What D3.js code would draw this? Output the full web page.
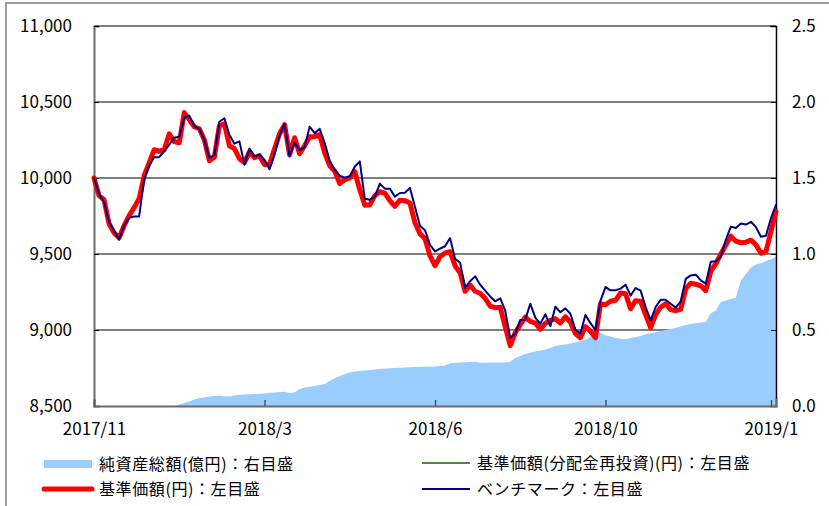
<!DOCTYPE html>
<html lang="ja">
<head>
<meta charset="utf-8">
<script src="https://cdn.jsdelivr.net/npm/d3@7/dist/d3.min.js"></script>
<style>
  html, body { margin: 0; padding: 0; background: #fff; }
  svg { display: block; }
  text { font-family: "Noto Sans CJK JP", "Noto Sans", sans-serif; fill: #000; }
</style>
</head>
<body>
<svg id="chart" width="829" height="506"></svg>
<script>
// 基準価額（円）— 設定来の推移
const nav = [
  10000, 9884, 9857, 9699, 9640, 9607, 9686, 9752, 9805, 9864,
  10015, 10101, 10186, 10176, 10186, 10291, 10239, 10232, 10430, 10384,
  10337, 10324, 10252, 10114, 10137, 10344, 10357, 10212, 10193, 10127,
  10101, 10173, 10134, 10147, 10088, 10088, 10193, 10291, 10351, 10153,
  10265, 10160, 10212, 10272, 10272, 10285, 10166, 10081, 10045, 9963,
  9989, 10000, 10041, 9923, 9821, 9824, 9884, 9910, 9901, 9851,
  9814, 9854, 9851, 9836, 9706, 9634, 9601, 9489, 9423, 9482,
  9507, 9515, 9423, 9377, 9255, 9295, 9255, 9242, 9209, 9157,
  9147, 9150, 9022, 8897, 8982, 9035, 9084, 9057, 9045, 9005,
  9043, 9064, 9074, 9046, 9087, 9051, 8976, 8949, 9022, 8992,
  8949, 9173, 9166, 9189, 9196, 9243, 9239, 9140, 9193, 9189,
  9101, 9015, 9101, 9150, 9173, 9134, 9127, 9136, 9272, 9308,
  9301, 9291, 9259, 9387, 9436, 9499, 9561, 9617, 9584, 9574,
  9578, 9591, 9561, 9505, 9515, 9648, 9780
];

// 分配実績がないため、分配金再投資ベースの基準価額は基準価額と同じ値
const navReinvested = nav;

// ベンチマーク（設定日を 10,000 として指数化）
const benchmark = [
  10000, 9897, 9841, 9712, 9653, 9594, 9686, 9739, 9747, 9747,
  9989, 10081, 10137, 10137, 10176, 10219, 10265, 10272, 10397, 10410,
  10341, 10324, 10249, 10134, 10150, 10370, 10393, 10285, 10226, 10241,
  10088, 10193, 10142, 10153, 10120, 10058, 10153, 10278, 10357, 10142,
  10232, 10183, 10203, 10338, 10295, 10324, 10232, 10114, 10055, 10015,
  10002, 10011, 10074, 10109, 9864, 9857, 9877, 9963, 9930, 9930,
  9877, 9901, 9903, 9934, 9811, 9686, 9657, 9561, 9517, 9535,
  9551, 9605, 9469, 9443, 9278, 9321, 9353, 9298, 9259, 9221,
  9189, 9209, 9127, 8949, 8976, 9066, 9068, 9173, 9081, 9041,
  9104, 9025, 9153, 9117, 9142, 9107, 9002, 8978, 9099, 9045,
  9000, 9193, 9282, 9261, 9262, 9272, 9298, 9226, 9276, 9259,
  9151, 9064, 9151, 9199, 9199, 9173, 9147, 9189, 9336, 9359,
  9364, 9326, 9305, 9449, 9453, 9482, 9594, 9680, 9671, 9701,
  9694, 9712, 9677, 9614, 9620, 9736, 9824
];

// 純資産総額（億円）
const netAssets = [
  0, 0, 0, 0, 0, 0, 0, 0, 0, 0,
  0, 0, 0, 0, 0, 0, 0, 0.010, 0.020, 0.030,
  0.043, 0.053, 0.056, 0.063, 0.066, 0.068, 0.064, 0.063, 0.069, 0.074,
  0.076, 0.077, 0.079, 0.081, 0.083, 0.087, 0.089, 0.092, 0.093, 0.086,
  0.088, 0.112, 0.122, 0.127, 0.132, 0.138, 0.145, 0.164, 0.184, 0.197,
  0.211, 0.220, 0.227, 0.230, 0.234, 0.237, 0.240, 0.243, 0.247, 0.248,
  0.250, 0.251, 0.253, 0.255, 0.257, 0.258, 0.259, 0.259, 0.260, 0.263,
  0.266, 0.281, 0.284, 0.286, 0.288, 0.289, 0.291, 0.284, 0.284, 0.286,
  0.286, 0.286, 0.286, 0.291, 0.316, 0.329, 0.342, 0.351, 0.359, 0.365,
  0.372, 0.382, 0.395, 0.401, 0.405, 0.411, 0.418, 0.426, 0.436, 0.454,
  0.470, 0.480, 0.464, 0.457, 0.447, 0.443, 0.439, 0.447, 0.454, 0.461,
  0.470, 0.478, 0.486, 0.493, 0.500, 0.507, 0.515, 0.523, 0.533, 0.539,
  0.545, 0.549, 0.553, 0.610, 0.628, 0.684, 0.694, 0.704, 0.714, 0.826,
  0.868, 0.911, 0.931, 0.939, 0.954, 0.964, 0.982
];

// 横軸の目盛ラベルと、その位置にあたるデータ番号
const xTickLabels = ["2017/11", "2018/3", "2018/6", "2018/10", "2019/1"];
const xTickIndex = [0, 34, 68, 102, 135];

// 縦軸の目盛
const leftTicks = [8500, 9000, 9500, 10000, 10500, 11000];
const rightTicks = [0, 0.5, 1.0, 1.5, 2.0, 2.5];

// 凡例
const legendItems = [
  { label: "純資産総額(億円)：右目盛", kind: "area", color: "#99ccff" },
  { label: "基準価額(分配金再投資)(円)：左目盛", kind: "line", color: "#4f8a35", width: 2 },
  { label: "基準価額(円)：左目盛", kind: "line", color: "#ff0000", width: 5 },
  { label: "ベンチマーク：左目盛", kind: "line", color: "#000080", width: 2 }
];

const svg = d3.select("#chart");
const plot = { left: 94, right: 776, top: 26, bottom: 406 };

const x = d3.scaleLinear().domain([0, nav.length - 1]).range([plot.left, plot.right]);
const yL = d3.scaleLinear().domain([8500, 11000]).range([plot.bottom, plot.top]);
const yR = d3.scaleLinear().domain([0, 2.5]).range([plot.bottom, plot.top]);

// 外枠
svg.append("path")
  .attr("d", "M6,520 L6,3 L840,3")
  .attr("fill", "none").attr("stroke", "#7f7f7f").attr("stroke-width", 1.5);

// 目盛線
svg.append("g").selectAll("line")
  .data(leftTicks.filter(d => d > 8500))
  .join("line")
  .attr("x1", plot.left).attr("x2", plot.right)
  .attr("y1", d => yL(d)).attr("y2", d => yL(d))
  .attr("stroke", "#000").attr("stroke-width", 1);

// 純資産総額（面）
const area = d3.area()
  .x((d, i) => x(i))
  .y0(yR(0))
  .y1(d => yR(d));
svg.append("path")
  .datum(netAssets)
  .attr("d", area)
  .attr("fill", "#99ccff");

// 左軸
const axisL = svg.append("g")
  .attr("transform", `translate(${plot.left},0)`)
  .call(d3.axisLeft(yL).tickValues(leftTicks).tickFormat(d3.format(","))
    .tickSize(-5).tickPadding(22));
axisL.select(".domain").attr("stroke", "#6b6b6b").attr("stroke-width", 2);
axisL.selectAll(".tick line").attr("stroke", "#000");
axisL.selectAll("text").attr("font-size", 17).attr("font-family", "'Noto Sans CJK JP', sans-serif");

// 右軸
const axisR = svg.append("g")
  .attr("transform", `translate(${plot.right},0)`)
  .call(d3.axisRight(yR).tickValues(rightTicks).tickFormat(d3.format(".1f"))
    .tickSize(-5).tickPadding(16));
axisR.select(".domain").attr("stroke", "#000").attr("stroke-width", 1.5);
axisR.selectAll(".tick line").attr("stroke", "#000");
axisR.selectAll("text").attr("font-size", 17).attr("font-family", "'Noto Sans CJK JP', sans-serif");

// 下軸
const axisB = svg.append("g")
  .attr("transform", `translate(0,${plot.bottom})`)
  .call(d3.axisBottom(x).tickValues(xTickIndex)
    .tickFormat((d, i) => xTickLabels[i])
    .tickSize(-6).tickPadding(17));
axisB.select(".domain").attr("stroke", "#6b6b6b").attr("stroke-width", 2);
axisB.selectAll(".tick line").attr("stroke", "#555").attr("stroke-width", 1.5);
axisB.selectAll("text").attr("font-size", 17).attr("font-family", "'Noto Sans CJK JP', sans-serif");

svg.selectAll(".domain").attr("stroke-linecap", "square");

// 折れ線
const lineL = d3.line().x((d, i) => x(i)).y(d => yL(d));
const series = [
  { data: navReinvested, color: "#4f8a35", width: 2 },
  { data: nav, color: "#ff0000", width: 5 },
  { data: benchmark, color: "#000080", width: 2 }
];
svg.append("g").selectAll("path")
  .data(series)
  .join("path")
  .attr("d", d => lineL(d.data))
  .attr("fill", "none")
  .attr("stroke", d => d.color)
  .attr("stroke-width", d => d.width)
  .attr("stroke-linejoin", "round")
  .attr("stroke-linecap", "round");

// 凡例
const legendPos = [
  { x: 44, y: 464 },
  { x: 422, y: 463 },
  { x: 44, y: 489 },
  { x: 422, y: 489 }
];
const leg = svg.append("g").selectAll("g")
  .data(legendItems)
  .join("g")
  .attr("transform", (d, i) => `translate(${legendPos[i].x},${legendPos[i].y})`);
leg.filter(d => d.kind === "area").append("rect")
  .attr("x", 0).attr("y", -4).attr("width", 48).attr("height", 8)
  .attr("fill", d => d.color);
leg.filter(d => d.kind === "line").append("line")
  .attr("x1", 0).attr("x2", 48).attr("y1", 0).attr("y2", 0)
  .attr("stroke", d => d.color).attr("stroke-width", d => d.width)
  .attr("stroke-linecap", d => d.width > 3 ? "round" : "butt");
leg.append("text")
  .attr("x", 55).attr("y", 0).attr("dy", "0.36em")
  .attr("font-size", 16)
  .attr("letter-spacing", 0.6)
  .text(d => d.label);
</script>
</body>
</html>
